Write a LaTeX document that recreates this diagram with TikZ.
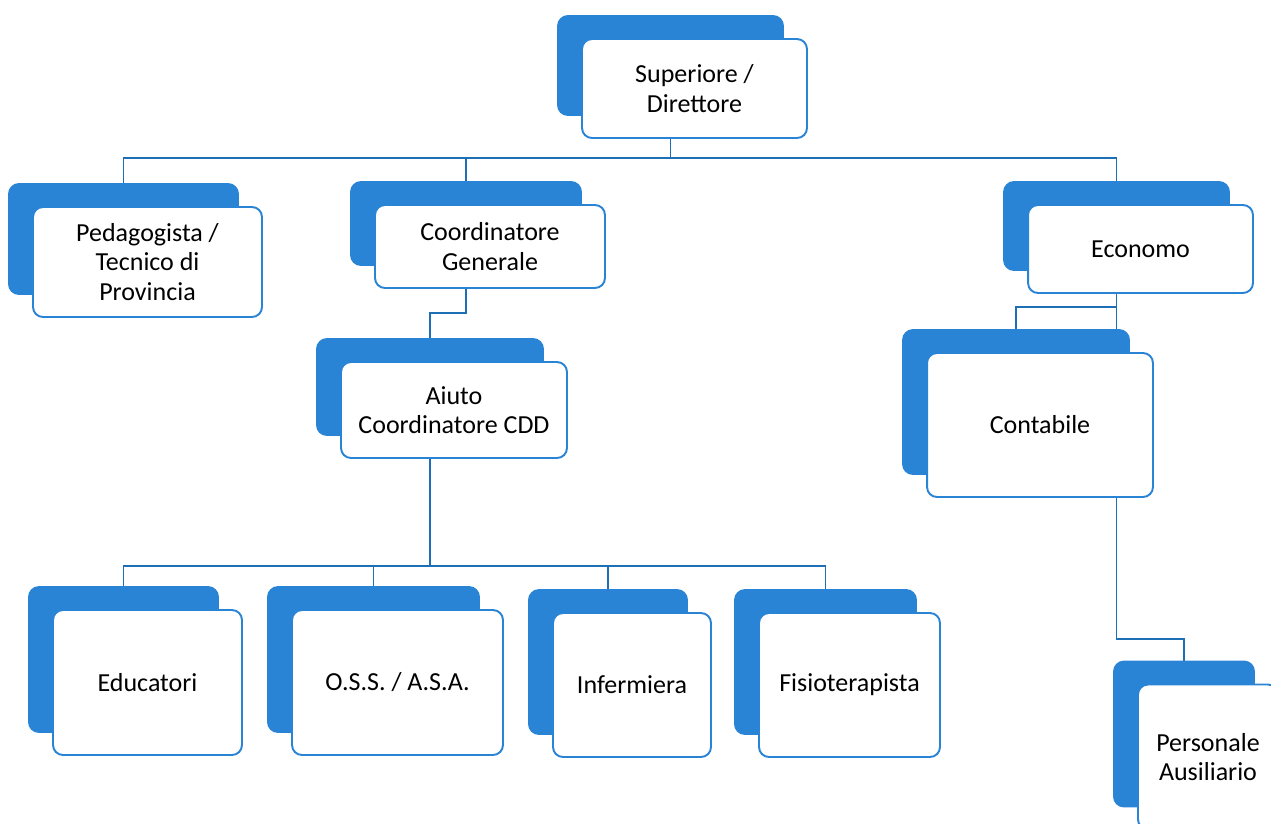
\documentclass[tikz,border=0pt]{standalone}
\usepackage{fontspec}
\setmainfont{Carlito}
\usetikzlibrary{backgrounds}
\definecolor{boxblue}{RGB}{42,132,214}
\definecolor{linkblue}{RGB}{30,112,182}
\begin{document}
\begin{tikzpicture}[x=0.02cm, y=-0.02cm,
    unitback/.style={rectangle, rounded corners=0.2cm, fill=boxblue, draw=boxblue, line width=1.1pt, inner sep=0pt, outer sep=0pt},
    unitfront/.style={rectangle, rounded corners=0.2cm, fill=white, draw=boxblue, line width=1.1pt, inner sep=0pt, outer sep=0pt, align=center, font=\fontsize{14.8}{16.8}\selectfont},
    link/.style={draw=linkblue, line width=1.1pt}]
    \useasboundingbox (0,0) rectangle (1271,823);
    \coordinate (bus1) at (0,158);
    \coordinate (bus2) at (0,313);
    \coordinate (bus3) at (0,566);
    \coordinate (bus4) at (0,307);
    \coordinate (bus5) at (0,639);

    \node[unitback, minimum width=4.5cm, minimum height=1.98cm] (sup) at (670.5,65.5) {};
    \node[unitfront, minimum width=4.5cm, minimum height=1.98cm] (supf) at ([shift={(24,23)}] sup) {Superiore /\\Direttore};
    \node[unitback, minimum width=4.58cm, minimum height=2.2cm] (ped) at (123.5,239) {};
    \node[unitfront, minimum width=4.58cm, minimum height=2.2cm] (pedf) at ([shift={(24,23)}] ped) {Pedagogista /\\Tecnico di\\Provincia};
    \node[unitback, minimum width=4.6cm, minimum height=1.66cm] (coo) at (466,223.5) {};
    \node[unitfront, minimum width=4.6cm, minimum height=1.66cm] (coof) at ([shift={(24,23)}] coo) {Coordinatore\\Generale};
    \node[unitback, minimum width=4.5cm, minimum height=1.76cm] (eco) at (1116.5,226) {};
    \node[unitfront, minimum width=4.5cm, minimum height=1.76cm] (ecof) at ([shift={(24,23)}] eco) {Economo};
    \node[unitback, minimum width=4.52cm, minimum height=1.92cm] (aiu) at (430,387) {};
    \node[unitfront, minimum width=4.52cm, minimum height=1.92cm] (aiuf) at ([shift={(24,23)}] aiu) {Aiuto\\Coordinatore CDD};
    \node[unitback, minimum width=4.52cm, minimum height=2.88cm] (con) at (1016,402) {};
    \node[unitfront, minimum width=4.52cm, minimum height=2.88cm] (conf) at ([shift={(24,23)}] con) {Contabile};
    \node[unitback, minimum width=3.78cm, minimum height=2.9cm] (edu) at (123.5,659.5) {};
    \node[unitfront, minimum width=3.78cm, minimum height=2.9cm] (eduf) at ([shift={(24,23)}] edu) {Educatori};
    \node[unitback, minimum width=4.22cm, minimum height=2.9cm] (oss) at (373.5,659.5) {};
    \node[unitfront, minimum width=4.22cm, minimum height=2.9cm] (ossf) at ([shift={(24,23)}] oss) {O.S.S. / A.S.A.};
    \node[unitback, minimum width=3.16cm, minimum height=2.88cm] (inf) at (608,662) {};
    \node[unitfront, minimum width=3.16cm, minimum height=2.88cm] (inff) at ([shift={(24,23)}] inf) {Infermiera};
    \node[unitback, minimum width=3.62cm, minimum height=2.88cm] (fis) at (825.5,662) {};
    \node[unitfront, minimum width=3.62cm, minimum height=2.88cm] (fisf) at ([shift={(24,23)}] fis) {Fisioterapista};
    \node[unitback, minimum width=2.8cm, minimum height=2.9cm] (per) at (1184,734) {};
    \node[unitfront, minimum width=2.8cm, minimum height=2.9cm] (perf) at ([shift={(24,23)}] per) {Personale\\Ausiliario};

    % connectors behind the boxes
    \begin{scope}[on background layer]
        \draw[link] (ped.north) |- (eco.north |- bus1) -- (eco.north);
        \draw[link] (sup.south) -- (sup.south |- bus1);
        \draw[link] (coo.north) -- (coo.north |- bus1);
        \draw[link] (coo.south) |- (aiu.north |- bus2) -- (aiu.north);
        \draw[link] (aiu.south) -- (aiu.south |- bus3);
        \draw[link] (edu.north) |- (fis.north |- bus3) -- (fis.north);
        \draw[link] (oss.north) -- (oss.north |- bus3);
        \draw[link] (inf.north) -- (inf.north |- bus3);
        \draw[link] (eco.south) |- (con.north |- bus4) -- (con.north);
        \draw[link] (eco.south) |- (per.north |- bus5) -- (per.north);
    \end{scope}
\end{tikzpicture}
\end{document}
